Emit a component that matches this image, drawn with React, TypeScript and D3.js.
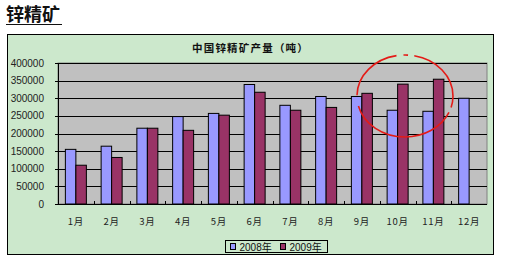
import React from "react";
import * as d3 from "d3";

const months = ["1月", "2月", "3月", "4月", "5月", "6月", "7月", "8月", "9月", "10月", "11月", "12月"];
const series2008 = [155000, 164000, 215000, 248000, 257000, 339000, 280000, 305000, 305000, 266000, 263000, 300000];
const series2009: (number | null)[] = [110000, 132000, 215000, 209000, 252000, 317000, 266000, 274000, 314000, 340000, 354000, null];
const yTicks = [0, 50000, 100000, 150000, 200000, 250000, 300000, 350000, 400000];
const seriesNames = ["2008年", "2009年"];
const colors = ["#9999ff", "#993366"];

export default function App() {
  const W = 509, H = 269;
  const plot = { left: 58, right: 487, top: 63, bottom: 204 };
  const x = d3.scaleBand<string>().domain(months).range([plot.left, plot.right]).paddingInner(0).paddingOuter(0);
  const y = d3.scaleLinear().domain([0, 400000]).range([plot.bottom, plot.top]);
  const bw = 10.5;
  const font = "'Liberation Sans', 'Noto Sans CJK SC', sans-serif";
  const cjk = "'Noto Sans CJK SC', sans-serif";

  return (
    <svg width={W} height={H} style={{ position: "absolute", left: 0, top: 0 }} xmlns="http://www.w3.org/2000/svg">
      <rect x={0} y={0} width={W} height={H} fill="#ffffff" />
      {/* Page title */}
      <text x={6} y={21} fontFamily={cjk} fontSize={18} fontWeight="bold" fill="#111">锌精矿</text>
      <line x1={6} x2={62} y1={24.5} y2={24.5} stroke="#111" strokeWidth={1.2} />

      {/* chart area */}
      <rect x={7.5} y={34.5} width={486} height={220} fill="#cce8cc" stroke="#000" strokeWidth={1} />
      <text x={192} y={51.5} fontFamily={cjk} fontSize={10.5} letterSpacing={1.2} fontWeight="bold" fill="#111">中国锌精矿产量（吨）</text>

      {/* plot area */}
      <rect x={plot.left} y={plot.top} width={plot.right - plot.left} height={plot.bottom - plot.top} fill="#c0c0c0" stroke="#808080" strokeWidth={1} />
      {yTicks.map((t) => (
        <g key={t}>
          {t > 0 && <line x1={plot.left} x2={plot.right} y1={Math.round(y(t)) + 0.5} y2={Math.round(y(t)) + 0.5} stroke="#000" strokeWidth={1} />}
          <line x1={plot.left - 3} x2={plot.left} y1={Math.round(y(t)) + 0.5} y2={Math.round(y(t)) + 0.5} stroke="#000" />
          <text x={44} y={y(t) + 3.5} textAnchor="end" fontFamily={font} fontSize={10} fill="#222">{t}</text>
        </g>
      ))}

      {/* bars */}
      {months.map((m, i) => {
        const cx = (x(m) as number) + x.bandwidth() / 2;
        const v1 = series2008[i];
        const v2 = series2009[i];
        return (
          <g key={m}>
            {v1 != null && (
              <rect x={cx - bw} y={y(v1)} width={bw} height={plot.bottom - y(v1)} fill={colors[0]} stroke="#000" strokeWidth={1} />
            )}
            {v2 != null && (
              <rect x={cx} y={y(v2)} width={bw} height={plot.bottom - y(v2)} fill={colors[1]} stroke="#000" strokeWidth={1} />
            )}
          </g>
        );
      })}

      {/* axes */}
      <line x1={plot.left + 0.5} x2={plot.left + 0.5} y1={plot.top} y2={plot.bottom} stroke="#000" />
      <line x1={plot.left} x2={plot.right} y1={plot.bottom + 0.5} y2={plot.bottom + 0.5} stroke="#000" />
      {months.map((m) => (
        <line key={"t" + m} x1={Math.round(x(m) as number) + 0.5} x2={Math.round(x(m) as number) + 0.5} y1={plot.bottom - 3} y2={plot.bottom} stroke="#000" />
      ))}
      {months.map((m) => (
        <text key={"l" + m} x={(x(m) as number) + x.bandwidth() / 2} y={225} textAnchor="middle" fontFamily={cjk} fontSize={9.5} letterSpacing={0.8} fill="#222">{m}</text>
      ))}

      {/* legend */}
      <rect x={225.5} y={240.5} width={102} height={12} fill="#cce8cc" stroke="#000" />
      {seriesNames.map((s, i) => (
        <g key={s} transform={`translate(${230 + i * 50},0)`}>
          <rect x={0.5} y={243.5} width={5} height={6} fill={colors[i]} stroke="#000" />
          <text x={9.5} y={250.5} fontFamily={font} fontSize={10} fill="#111">{s}</text>
        </g>
      ))}

      {/* red hand-drawn ellipse */}
      <ellipse cx={405} cy={96} rx={48} ry={41} fill="none" stroke="#e41b17" strokeWidth={1.6} pathLength={360} strokeDasharray="15 7 145 14 78 9 6 8 78" />
    </svg>
  );
}
